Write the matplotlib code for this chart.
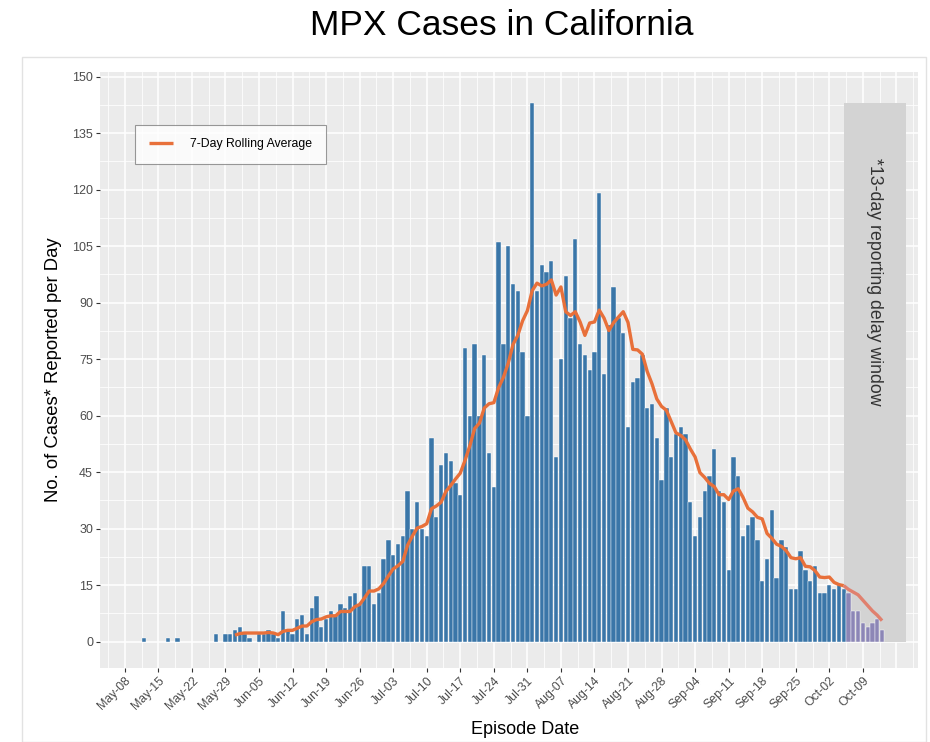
import matplotlib
matplotlib.use("Agg")
import matplotlib.pyplot as plt
import matplotlib.dates as mdates
import numpy as np
import pandas as pd
from matplotlib.patches import Rectangle

plt.rcParams['font.family'] = ['Liberation Sans', 'DejaVu Sans']

# Episode dates that had at least one case (2022) and the daily counts
case_dates = [
    "05-12", "05-17", "05-19", "05-27", "05-29", "05-30", "05-31",
    "06-01", "06-02", "06-03", "06-05", "06-06", "06-07", "06-08", "06-09", "06-10",
    "06-11", "06-12", "06-13", "06-14", "06-15", "06-16", "06-17", "06-18", "06-19",
    "06-20", "06-21", "06-22", "06-23", "06-24", "06-25", "06-26", "06-27", "06-28",
    "06-29", "06-30",
    "07-01", "07-02", "07-03", "07-04", "07-05", "07-06", "07-07", "07-08", "07-09",
    "07-10", "07-11", "07-12", "07-13", "07-14", "07-15", "07-16", "07-17", "07-18",
    "07-19", "07-20", "07-21", "07-22", "07-23", "07-24", "07-25", "07-26", "07-27",
    "07-28", "07-29", "07-30", "07-31",
    "08-01", "08-02", "08-03", "08-04", "08-05", "08-06", "08-07", "08-08", "08-09",
    "08-10", "08-11", "08-12", "08-13", "08-14", "08-15", "08-16", "08-17", "08-18",
    "08-19", "08-20", "08-21", "08-22", "08-23", "08-24", "08-25", "08-26", "08-27",
    "08-28", "08-29", "08-30", "08-31",
    "09-01", "09-02", "09-03", "09-04", "09-05", "09-06", "09-07", "09-08", "09-09",
    "09-10", "09-11", "09-12", "09-13", "09-14", "09-15", "09-16", "09-17", "09-18",
    "09-19", "09-20", "09-21", "09-22", "09-23", "09-24", "09-25", "09-26", "09-27",
    "09-28", "09-29", "09-30",
    "10-01", "10-02", "10-03", "10-04", "10-05", "10-06", "10-07", "10-08", "10-09",
    "10-10", "10-11", "10-12", "10-13",
]
daily_cases = [
    1, 1, 1, 2, 2, 2, 3,
    4, 2, 1, 2, 2, 3, 2, 1, 8,
    3, 2, 6, 7, 2, 9, 12, 4, 6,
    8, 7, 10, 9, 12, 13, 10, 20, 20,
    10, 13,
    22, 27, 23, 26, 28, 40, 30, 37, 30,
    28, 54, 33, 47, 50, 48, 42, 39, 78,
    60, 79, 60, 76, 50, 41, 106, 79, 105,
    95, 93, 77, 60,
    143, 93, 100, 98, 101, 49, 75, 97, 86,
    107, 79, 76, 72, 77, 119, 71, 84, 94,
    86, 82, 57, 69, 70, 76, 62, 63, 54,
    43, 62, 49, 55,
    57, 55, 37, 28, 33, 40, 44, 51, 40,
    37, 19, 49, 44, 28, 31, 33, 27, 16,
    22, 35, 17, 27, 25, 14, 14, 24, 19,
    16, 20, 13,
    13, 15, 14, 15, 14, 13, 8, 8, 5,
    4, 5, 6, 3,
]

# reporting delay window
delay_start = "2022-10-05"
delay_end = "2022-10-18"
delay_label = "*13-day reporting delay window"

week_ticks = pd.date_range("2022-05-08", "2022-10-09", freq="7D")

BLUE = "#3A76A8"
PURPLE = "#8C86B6"
ORANGE = "#E8703A"
SALMON = "#E0806E"

dates = pd.to_datetime(["2022-" + d for d in case_dates])
cases = pd.Series(daily_cases, index=dates)
rolling = cases.rolling(7).mean()
win_start = pd.Timestamp(delay_start)
win_end = pd.Timestamp(delay_end)

fig = plt.figure(figsize=(9.3, 7.42), dpi=100)
fig.patches.append(Rectangle((22 / 930, 0), 1 - 26 / 930, 1 - 57 / 742,
                             transform=fig.transFigure, fill=False,
                             edgecolor="#E2E2E2", linewidth=1.0))
ax = fig.add_axes([100 / 930, 1 - 668 / 742, 818 / 930, 596 / 742])
ax.set_facecolor("#EBEBEB")
for s in ax.spines.values():
    s.set_visible(False)

# grid
grid_major = pd.date_range("2022-05-08", "2022-10-16", freq="7D")
grid_minor = pd.date_range("2022-05-01", "2022-10-16", freq="7D") + pd.Timedelta(hours=84)
for d in grid_major:
    ax.axvline(d, color="white", lw=1.1, zorder=0)
for d in grid_minor:
    ax.axvline(d, color="white", lw=0.55, zorder=0)
for v in np.arange(0, 151, 15):
    ax.axhline(v, color="white", lw=1.1, zorder=0)
for v in np.arange(7.5, 150, 15):
    ax.axhline(v, color="white", lw=0.55, zorder=0)

ax.add_patch(Rectangle((mdates.date2num(win_start), 0),
                       mdates.date2num(win_end) - mdates.date2num(win_start),
                       cases.max(), facecolor="#D3D3D3", edgecolor="none", zorder=1))

bar_colors = [PURPLE if d > win_start else BLUE for d in dates]
ax.bar(dates, cases.values, width=0.9, color=bar_colors, edgecolor="white",
       linewidth=0.3, zorder=2)

pre = rolling[rolling.index <= win_start]
post = rolling[rolling.index >= win_start]
ax.plot(pre.index, pre.values, color=ORANGE, lw=2.4, zorder=3,
        solid_capstyle="butt", label="7-Day Rolling Average")
ax.plot(post.index, post.values, color=SALMON, lw=2.4, zorder=3,
        solid_capstyle="butt")

ax.text(pd.Timestamp("2022-10-11 12:00"), 128.5, delay_label, rotation=-90,
        ha="center", va="top", fontsize=12.8, color="#333333", zorder=4)

ax.set_xlim(pd.Timestamp("2022-05-02 20:00"), pd.Timestamp("2022-10-20 12:00"))
ax.set_ylim(-7.0, 151.2)

ax.set_xticks(week_ticks)
ax.set_xticklabels([d.strftime("%b-%d") for d in week_ticks], rotation=45,
                   ha="right", rotation_mode="anchor", fontsize=8.8, color="#4D4D4D")
ax.set_yticks(np.arange(0, 151, 15))
ax.set_yticklabels([str(v) for v in range(0, 151, 15)], fontsize=9, color="#4D4D4D")
ax.tick_params(axis="both", length=3, width=0.8, color="#333333", pad=2)

ax.set_xlabel("Episode Date", fontsize=13, color="black")
ax.xaxis.set_label_coords(0.52, -0.089)
ax.set_ylabel("No. of Cases* Reported per Day", fontsize=13.3, color="black")
ax.yaxis.set_label_coords(-0.046, 0.5)

leg = ax.legend(loc="upper left", bbox_to_anchor=(0.043, 0.911), fontsize=8.8,
                frameon=True, fancybox=False, edgecolor="#7F7F7F",
                handlelength=2.0, borderpad=1.1, handletextpad=1.4,
                borderaxespad=0)
leg.get_frame().set_linewidth(0.8)

fig.text(0.539, 0.966, "MPX Cases in California", ha="center", va="center",
         fontsize=25.5, color="black")

fig.savefig("out.png", dpi=100)
